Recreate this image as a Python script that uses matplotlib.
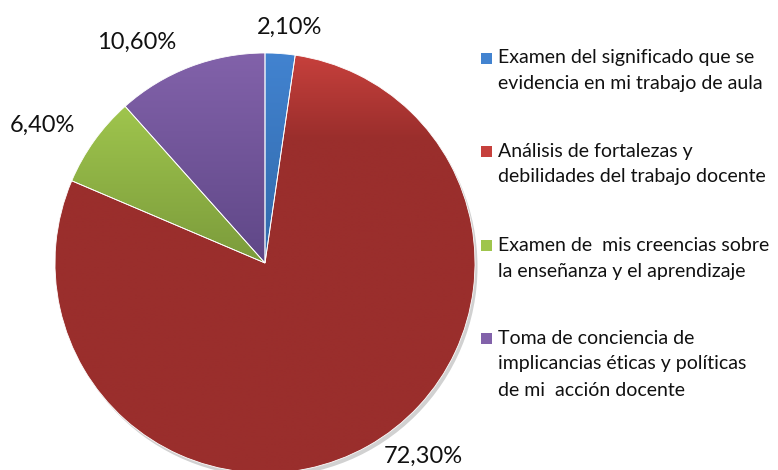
import matplotlib
matplotlib.use('Agg')
import matplotlib.pyplot as plt
from matplotlib.patches import Rectangle
import numpy as np

# data
labels = [
    'Examen del significado que se\nevidencia en mi trabajo de aula',
    'Análisis de fortalezas y\ndebilidades del trabajo docente',
    'Examen de  mis creencias sobre\nla enseñanza y el aprendizaje',
    'Toma de conciencia de\nimplicancias éticas y políticas\nde mi  acción docente',
]
values = [2.10, 72.30, 6.40, 10.60]
pct_labels = ['2,10%', '72,30%', '6,40%', '10,60%']

# gradient colours (top, bottom) like the Excel look
top_colors = ['#4283d0', '#c6403c', '#9fc54d', '#8262aa']
bottom_colors = ['#3169aa', '#9a2e2c', '#7b9b3b', '#5f4787']
grad_span = [1.0, 0.2, 1.0, 1.0]

W, H = 778, 470
R = 210.0
cx, cy = 265.0, 263.0

fig = plt.figure(figsize=(W / 100, H / 100), dpi=100)
ax = fig.add_axes([0, 0, 1, 1])

# soft shadow
shadow = plt.Circle((0.012, -0.018), 1.0, color='#000000', alpha=0.18, zorder=0, lw=0)
ax.add_patch(shadow)

wedges, _ = ax.pie(values, colors=bottom_colors, startangle=90, counterclock=False,
                   radius=1.0, center=(0, 0), frame=True,
                   wedgeprops=dict(linewidth=0.6, edgecolor='white'))


def hex_rgb(h):
    return np.array([int(h[i:i + 2], 16) / 255 for i in (1, 3, 5)])


for w, c0, c1, span in zip(wedges, top_colors, bottom_colors, grad_span):
    ext = w.get_path().get_extents()
    x0, y0, x1, y1 = ext.x0, ext.y0, ext.x1, ext.y1
    n = 200
    t = np.clip(np.linspace(0, 1, n) / span, 0, 1)[:, None]
    a, b = hex_rgb(c0), hex_rgb(c1)
    img = (a + (b - a) * t)[:, None, :]
    im = ax.imshow(img, extent=(x0, x1, y0, y1), origin='upper', aspect='auto',
                   zorder=w.get_zorder() + 0.1, interpolation='bilinear')
    im.set_clip_path(w)
    w.set_facecolor('none')
    w.set_zorder(w.get_zorder() + 0.2)

ax.set_xlim(-cx / R, (W - cx) / R)
ax.set_ylim((cy - H) / R, cy / R)
ax.set_aspect('equal')
ax.axis('off')

# percentage labels (pixel positions)
pct_pos = [(290, 27), (423, 456), (42, 125), (137, 42)]
for txt, (px, py) in zip(pct_labels, pct_pos):
    fig.text(px / W, 1 - py / H, txt, ha='center', va='center',
             fontsize=17, family='Lato', color='#111111')

# legend drawn by hand
leg_y = [58, 151, 245, 338]
line_h = 26
for lab, col, y in zip(labels, top_colors, leg_y):
    fig.patches.append(Rectangle((481 / W, 1 - (y + 6) / H), 11 / W, 11 / H,
                                 transform=fig.transFigure, facecolor=col,
                                 edgecolor='none', figure=fig))
    for k, line in enumerate(lab.split('\n')):
        fig.text(498 / W, 1 - (y + k * line_h) / H, line, ha='left', va='center',
                 fontsize=14, family='Lato', color='#111111')

fig.savefig('out.png', dpi=100)
